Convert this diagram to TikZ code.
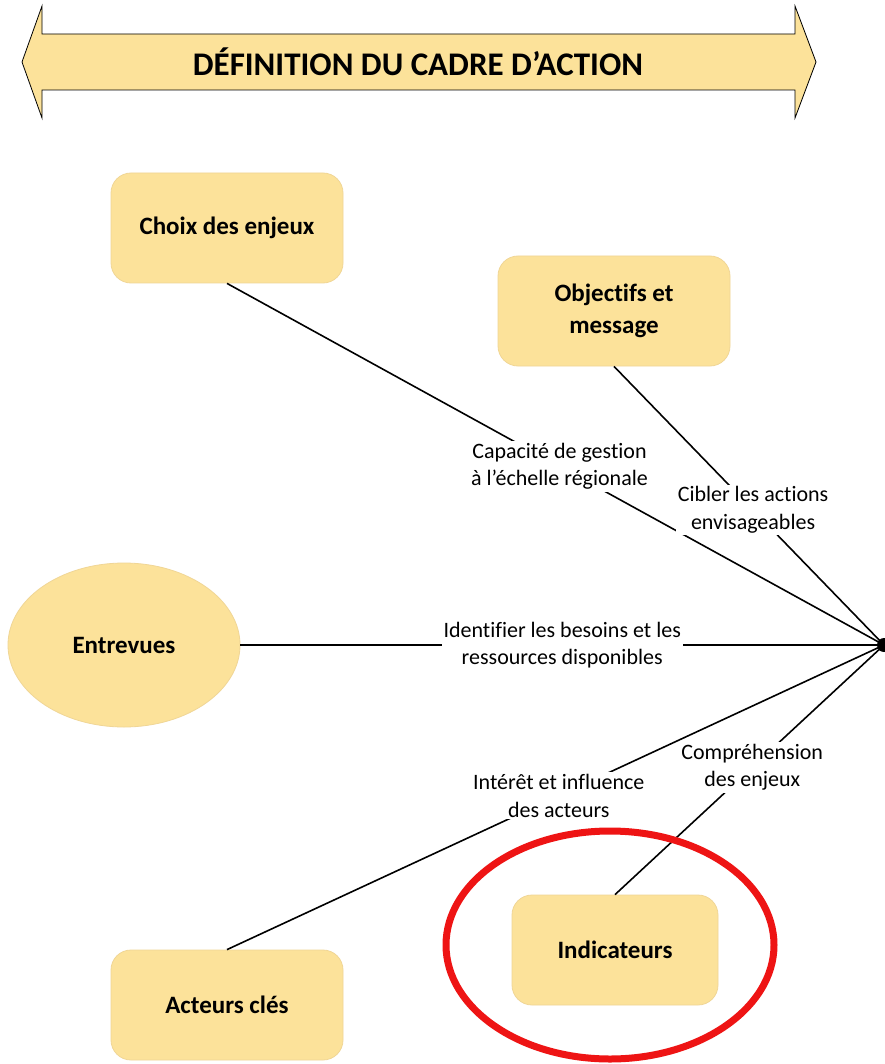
\documentclass[tikz,border=0pt]{standalone}
\usepackage{fontspec}
\setmainfont{Carlito}[Ligatures={NoCommon}]
\usetikzlibrary{shapes.geometric}
\definecolor{boxfill}{RGB}{252,226,154}
\definecolor{boxline}{RGB}{240,214,150}
\definecolor{ringred}{RGB}{238,20,20}
\begin{document}
\begin{tikzpicture}[x=1pt,y=-1pt,
  box/.style={draw=boxline,line width=0.8pt,fill=boxfill,rounded corners=20pt,minimum width=232pt,minimum height=110pt,align=center,font=\bfseries\fontsize{25}{32}\selectfont,inner sep=0pt},
  oval/.style={ellipse,draw=boxline,line width=0.8pt,fill=boxfill,minimum width=232pt,minimum height=164pt,inner sep=0pt,font=\bfseries\fontsize{25}{32}\selectfont},
  lab/.style={fill=white,inner sep=2pt,align=center,font=\fontsize{22}{27.5}\selectfont},
  conn/.style={line width=1.6pt,black}]
\useasboundingbox (0,0) rectangle (884,1064);
\fill[white] (0,0) rectangle (884,1064);
% title arrow
\draw[fill=boxfill,line width=0.8pt] (22,62) -- (42,6) -- (42,34) -- (795,34) -- (795,6) -- (816,62) -- (795,118) -- (795,90) -- (42,90) -- (42,118) -- cycle;
\node[font=\bfseries\fontsize{33}{38}\selectfont] (title) at (418,62) {DÉFINITION DU CADRE D’ACTION};
% hub
\coordinate (hub) at (884,645);
% nodes
\node[box] (choix) at (227,228) {Choix des enjeux};
\node[box] (obj) at (614,311) {Objectifs et\\message};
\node[oval] (entr) at (124,645) {Entrevues};
\node[box,minimum width=206pt] (ind) at (615,950) {Indicateurs};
\node[box] (act) at (227,1005) {Acteurs clés};
% connectors
\draw[conn] (choix.south) -- node[lab,pos=0.506] {Capacité de gestion\\à l’échelle régionale} (hub);
\draw[conn] (obj.south) -- node[lab,pos=0.515] {Cibler les actions\\envisageables} (hub);
\draw[conn] (entr.east) -- node[lab,pos=0.5] {Identifier les besoins et les\\ressources disponibles} (hub);
\draw[conn] (act.north) -- node[lab,pos=0.505] {Intérêt et influence\\des acteurs} (hub);
\draw[conn] (ind.north) -- node[lab,pos=0.51] {Compréhension\\des enjeux} (hub);
\fill (hub) circle (7pt);
% red ring
\draw[ringred,line width=7pt] (610,945) ellipse (164pt and 114pt);
\end{tikzpicture}
\end{document}
